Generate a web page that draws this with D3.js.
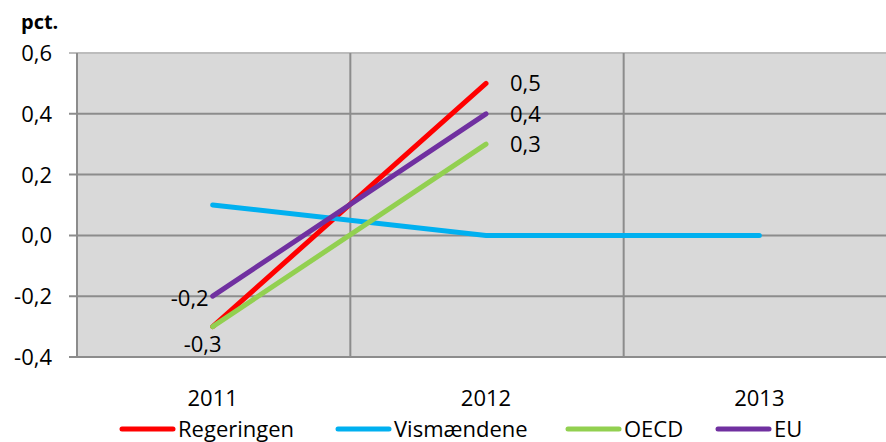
<!DOCTYPE html>
<html><head><meta charset="utf-8">
<script src="https://cdn.jsdelivr.net/npm/d3@7"></script>
<style>body{margin:0;background:#fff;} svg{display:block;font-family:"Open Sans",Lato,sans-serif;}</style>
</head><body>
<svg id="c" width="886" height="442"></svg>
<script>
const categories = ["2011","2012","2013"];
const seriesNames = ["Regeringen","Vismændene","OECD","EU"];
const seriesColors = ["#ff0000","#00b0f0","#92d050","#7030a0"];
const regeringen = [-0.3, 0.5, null];
const vismaendene = [0.1, 0.0, 0.0];
const oecd = [-0.3, 0.3, null];
const eu = [-0.2, 0.4, null];
const yTicks = [-0.4,-0.2,0,0.2,0.4,0.6];
const dataLabels = [
  {s:0,i:1,text:"0,5",pos:"right"},
  {s:3,i:1,text:"0,4",pos:"right"},
  {s:2,i:1,text:"0,3",pos:"right"},
  {s:3,i:0,text:"-0,2",pos:"left"},
  {s:0,i:0,text:"-0,3",pos:"below"}
];
const allSeries = [regeringen, vismaendene, oecd, eu];

const svg = d3.select("#c");
const FS = 22;
const pL = 77, pT = 53, pB = 357, pR = 897;
const x = d3.scaleBand().domain(categories).range([pL,pR]).padding(0);
const y = d3.scaleLinear().domain([-0.4,0.6]).range([pB, pT]);
const fmt = v => d3.format(".1f")(v).replace(".",",").replace("−","-");

svg.append("rect").attr("x",pL).attr("y",pT).attr("width",pR-pL).attr("height",pB-pT).attr("fill","#d9d9d9");

// horizontal gridlines
svg.append("g").selectAll("line").data(yTicks).join("line")
  .attr("x1",pL-8).attr("x2",pR).attr("y1",d=>y(d)).attr("y2",d=>y(d))
  .attr("stroke",d=>d===0.6?"#bcbcbc":"#8c8c8c").attr("stroke-width",2);
// vertical gridlines
svg.append("g").selectAll("line").data(categories.slice(1)).join("line")
  .attr("x1",d=>x(d)).attr("x2",d=>x(d)).attr("y1",pT).attr("y2",pB)
  .attr("stroke","#8c8c8c").attr("stroke-width",2);
// y axis line
svg.append("line").attr("x1",pL).attr("x2",pL).attr("y1",pT).attr("y2",pB+1).attr("stroke","#8c8c8c").attr("stroke-width",2);

// y labels
svg.append("g").selectAll("text").data(yTicks).join("text")
  .attr("x",52).attr("y",d=>y(d)).attr("dy","0.36em").attr("text-anchor","end")
  .attr("font-size",FS).attr("fill","#000").text(fmt);

svg.append("text").attr("x",21).attr("y",29).attr("font-size",20).attr("font-weight","bold").text("pct.");

// x labels
svg.append("g").selectAll("text").data(categories).join("text")
  .attr("x",d=>x(d)+x.bandwidth()/2-1).attr("y",406).attr("text-anchor","middle")
  .attr("font-size",FS).text(d=>d);

const cx = i => x(categories[i]) + x.bandwidth()/2 - 1;
const line = d3.line().defined(d=>d.v!==null).x(d=>cx(d.i)).y(d=>y(d.v));
allSeries.forEach((arr,s)=>{
  svg.append("path").datum(arr.map((v,i)=>({v,i})))
    .attr("d",line).attr("fill","none").attr("stroke",seriesColors[s])
    .attr("stroke-width",5).attr("stroke-linecap","round");
});

dataLabels.forEach(l=>{
  const px = cx(l.i), py = y(allSeries[l.s][l.i]);
  const t = svg.append("text").attr("font-size",FS).text(l.text);
  if(l.pos==="right") t.attr("x",px+24).attr("y",py).attr("dy","0.36em");
  else if(l.pos==="left") t.attr("x",px-4).attr("y",py+2).attr("dy","0.36em").attr("text-anchor","end");
  else t.attr("x",px-10).attr("y",py+25).attr("text-anchor","middle");
});

// legend
const legendX = [120, 336, 566, 716];
seriesNames.forEach((n,s)=>{
  const g = svg.append("g");
  g.append("line").attr("x1",legendX[s]+2).attr("x2",legendX[s]+53).attr("y1",429).attr("y2",429)
    .attr("stroke",seriesColors[s]).attr("stroke-width",5).attr("stroke-linecap","round");
  g.append("text").attr("x",legendX[s]+58).attr("y",437).attr("font-size",FS).text(n);
});
</script>
</body></html>
